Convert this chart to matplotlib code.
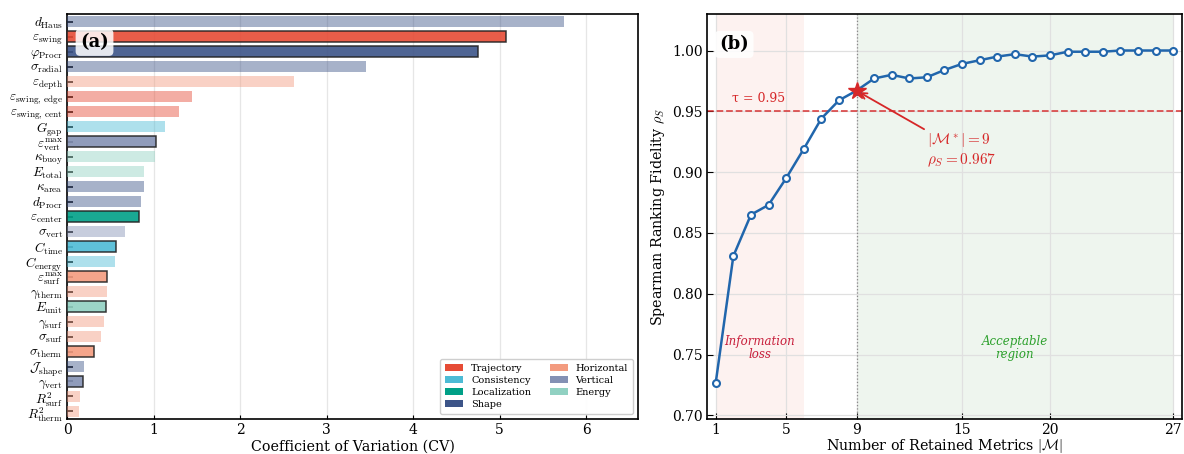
import matplotlib
matplotlib.use("Agg")
import matplotlib.pyplot as plt
from matplotlib.patches import Patch

plt.rcParams["font.family"] = ["DejaVu Serif"]
plt.rcParams["mathtext.fontset"] = "cm"
plt.rcParams["xtick.direction"] = "in"
plt.rcParams["ytick.direction"] = "in"

# ---------------- panel (a): coefficient of variation per metric ----------------
metric_labels = [
    r"$d_{\rm Haus}$", r"$\varepsilon_{\rm swing}$", r"$\varphi_{\rm Procr}$",
    r"$\sigma_{\rm radial}$", r"$\varepsilon_{\rm depth}$", r"$\varepsilon_{\rm swing,\,edge}$",
    r"$\varepsilon_{\rm swing,\,cent}$", r"$G_{\rm gap}$", r"$\varepsilon_{\rm vert}^{\rm max}$",
    r"$\kappa_{\rm buoy}$", r"$E_{\rm total}$", r"$\kappa_{\rm area}$",
    r"$d_{\rm Procr}$", r"$\varepsilon_{\rm center}$", r"$\sigma_{\rm vert}$",
    r"$C_{\rm time}$", r"$C_{\rm energy}$", r"$\varepsilon_{\rm surf}^{\rm max}$",
    r"$\gamma_{\rm therm}$", r"$E_{\rm unit}$", r"$\gamma_{\rm surf}$",
    r"$\sigma_{\rm surf}$", r"$\sigma_{\rm therm}$", r"$\mathcal{J}_{\rm shape}$",
    r"$\gamma_{\rm vert}$", r"$R^2_{\rm surf}$", r"$R^2_{\rm therm}$",
]
cv_values = [
    5.74, 5.08, 4.75, 3.46, 2.62, 1.45, 1.29, 1.13, 1.03,
    1.02, 0.89, 0.89, 0.855, 0.836, 0.67, 0.567, 0.555, 0.466,
    0.459, 0.45, 0.428, 0.393, 0.312, 0.197, 0.189, 0.147, 0.139,
]
metric_category = [
    "Shape", "Trajectory", "Shape", "Shape", "Horizontal", "Trajectory",
    "Trajectory", "Consistency", "Vertical", "Energy", "Energy", "Shape",
    "Shape", "Localization", "Vertical", "Consistency", "Consistency", "Horizontal",
    "Horizontal", "Energy", "Horizontal", "Horizontal", "Horizontal", "Shape",
    "Vertical", "Horizontal", "Horizontal",
]
retained = [
    False, True, True, False, False, False, False, False, True,
    False, False, False, False, True, False, True, False, True,
    False, True, False, False, True, False, True, False, False,
]
category_colors = {
    "Trajectory": "#E64B35",
    "Consistency": "#4DBBD5",
    "Localization": "#00A087",
    "Shape": "#3C5488",
    "Horizontal": "#F39B7F",
    "Vertical": "#8491B4",
    "Energy": "#91D1C2",
}
legend_order = ["Trajectory", "Consistency", "Localization", "Shape",
                "Horizontal", "Vertical", "Energy"]

# ---------------- panel (b): fidelity vs number of retained metrics ----------------
n_retained = list(range(1, 28))
spearman_rho = [
    0.727, 0.831, 0.865, 0.873, 0.895, 0.919, 0.944, 0.959, 0.967,
    0.977, 0.980, 0.977, 0.978, 0.984, 0.989, 0.992, 0.995, 0.997,
    0.995, 0.996, 0.999, 0.999, 0.999, 1.000, 1.000, 1.000, 1.000,
]
tau = 0.95
k_star = 9
rho_star = 0.967
x_ticks_b = [1, 5, 9, 15, 20, 27]

fig = plt.figure(figsize=(11.84, 4.54), dpi=100)
ax1 = fig.add_axes([0.0566, 0.0771, 0.4823, 0.892])
ax2 = fig.add_axes([0.5971, 0.0771, 0.4012, 0.892])

# ---- (a)
ypos = list(range(len(cv_values)))
for i, (v, cat, sel) in enumerate(zip(cv_values, metric_category, retained)):
    col = category_colors[cat]
    if sel:
        ax1.barh(i, v, height=0.78, color=col, alpha=0.9,
                 edgecolor="#222222", linewidth=1.1, zorder=3)
    else:
        ax1.barh(i, v, height=0.78, color=col, alpha=0.45,
                 edgecolor="none", zorder=3)
ax1.set_yticks(ypos)
ax1.set_yticklabels(metric_labels, fontsize=9.5)
ax1.set_ylim(len(cv_values) - 0.5, -0.5)
ax1.set_xlim(0, max(cv_values) * 1.15)
ax1.set_xticks(range(0, 7))
ax1.tick_params(axis="x", labelsize=10, length=3, pad=3)
ax1.tick_params(axis="y", length=4, width=1.2, pad=3)
ax1.set_xlabel("Coefficient of Variation (CV)", fontsize=10.3, labelpad=2)
ax1.grid(axis="x", color="#e6e6e6", linewidth=0.9, zorder=0)
ax1.set_axisbelow(True)
for s in ax1.spines.values():
    s.set_linewidth(1.2)
ax1.text(0.023, 0.93, "(a)", transform=ax1.transAxes, fontsize=13,
         fontweight="bold", va="center", ha="left", zorder=5,
         bbox=dict(boxstyle="round,pad=0.25", facecolor="white",
                   edgecolor="none", alpha=0.85))
handles = [Patch(facecolor=category_colors[c], label=c) for c in legend_order]
ax1.legend(handles=handles, loc="lower right", ncol=2, fontsize=7,
           frameon=True, fancybox=True, framealpha=0.95, edgecolor="#cccccc",
           handlelength=1.85, handleheight=0.7, columnspacing=1.9,
           handletextpad=0.8, borderpad=0.55, labelspacing=0.3)

# ---- (b)
ax2.axvspan(1, 6, color="#E64B35", alpha=0.07, linewidth=0, zorder=0)
ax2.axvspan(k_star, 27, color="#4c9a4c", alpha=0.09, linewidth=0, zorder=0)
ax2.axvline(k_star, color="#888888", linestyle=":", linewidth=0.9, zorder=1)
ax2.axhline(tau, color="#d62728", linestyle="--", linewidth=1.3, alpha=0.8, zorder=2)
ax2.plot(n_retained, spearman_rho, color="#2166ac", linewidth=1.8,
         marker="o", markersize=5, markerfacecolor="white",
         markeredgecolor="#2166ac", markeredgewidth=1.5, zorder=4)
ax2.plot([k_star], [rho_star], marker="*", markersize=13, color="#d62728",
         linestyle="none", zorder=5)
ax2.text(3.45, 0.9555, "τ = 0.95", color="#d62728",
         fontsize=9, ha="center", va="bottom")
ax2.annotate(r"$|\mathcal{M}^*| = 9$" + "\n" + r"$\rho_S = {:.3f}$".format(rho_star),
             xy=(k_star, rho_star), xytext=(13.0, 0.934),
             fontsize=11, color="#d62728", ha="left", va="top",
             arrowprops=dict(arrowstyle="->", color="#d62728", lw=1.3,
                             relpos=(0, 1), shrinkA=0, shrinkB=2))
ax2.text(3.5, 0.7555, "Information\nloss", color="#c8203c", fontsize=8.5,
         style="italic", ha="center", va="center", linespacing=1.0)
ax2.text(18.0, 0.7555, "Acceptable\nregion", color="#2ca02c", fontsize=8.5,
         style="italic", ha="center", va="center", linespacing=1.0)
ax2.text(1.2, 1.005, "(b)", fontsize=13, fontweight="bold",
         ha="left", va="center", zorder=6,
         bbox=dict(boxstyle="round,pad=0.25", facecolor="white",
                   edgecolor="none", alpha=0.85))
ax2.set_xlim(0.5, 27.5)
ax2.set_ylim(0.697, 1.03)
ax2.set_xticks(x_ticks_b)
ax2.set_yticks([0.70, 0.75, 0.80, 0.85, 0.90, 0.95, 1.00])
ax2.set_yticklabels(["0.70", "0.75", "0.80", "0.85", "0.90", "0.95", "1.00"])
ax2.tick_params(labelsize=10, length=4, pad=3)
ax2.set_xlabel(r"Number of Retained Metrics $|\mathcal{M}|$", fontsize=10.3, labelpad=0)
ax2.set_ylabel(r"Spearman Ranking Fidelity $\rho_S$", fontsize=10.3)
ax2.grid(True, color="#e0e0e0", linewidth=0.9, zorder=0)
ax2.set_axisbelow(True)
for s in ax2.spines.values():
    s.set_linewidth(1.2)

fig.savefig("out.png", dpi=100)
